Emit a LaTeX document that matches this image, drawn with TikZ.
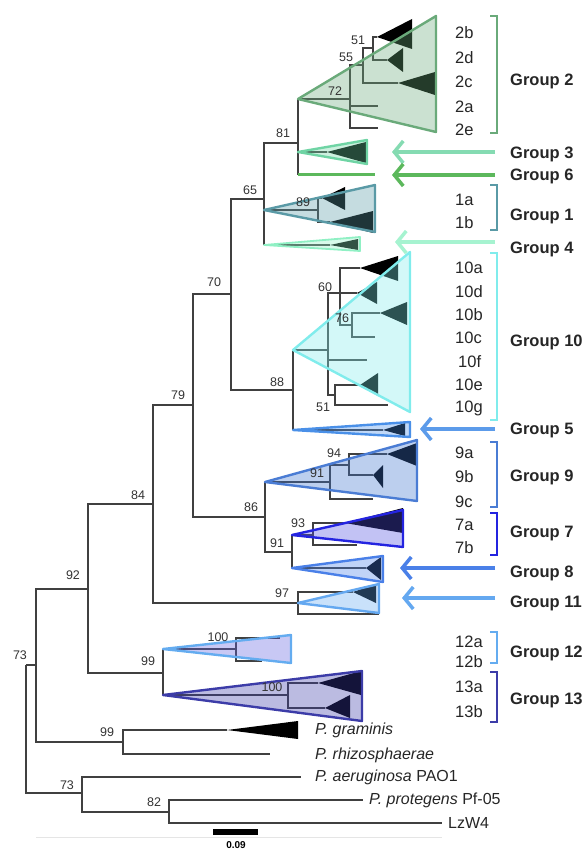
\documentclass[tikz,border=0pt]{standalone}
\usepackage{fontspec}
\setmainfont{Liberation Sans}
\usetikzlibrary{arrows.meta}

% clade colours
\definecolor{treegray}{HTML}{404040}
\definecolor{cTwo}{HTML}{6AAA7A}
\definecolor{cThree}{HTML}{6FD4A4}
\definecolor{cSix}{HTML}{5CB85C}
\definecolor{cOne}{HTML}{5A9AA6}
\definecolor{cFour}{HTML}{90F0C4}
\definecolor{cTen}{HTML}{80ECEC}
\definecolor{cFive}{HTML}{4A90E8}
\definecolor{cNine}{HTML}{4A7CD4}
\definecolor{cNineF}{HTML}{3F75CE}
\definecolor{cSeven}{HTML}{2424E0}
\definecolor{cSevenF}{HTML}{5050E0}
\definecolor{cEight}{HTML}{4A80E8}
\definecolor{cEleven}{HTML}{64A8F0}
\definecolor{cTwelve}{HTML}{64ACF0}
\definecolor{cTwelveF}{HTML}{6161DF}
\definecolor{cThirteen}{HTML}{3C3CA8}

\tikzset{
  br/.style={draw=treegray, line width=1.2pt},
  bs/.style={font=\fontsize{12.5}{14}\selectfont, text=black!80, inner sep=0pt},
  sub/.style={font=\fontsize{16.5}{19}\selectfont, text=black!85, anchor=west, inner sep=0pt},
  grp/.style={font=\fontsize{16.5}{19}\selectfont\bfseries, text=black!85, anchor=west, inner sep=0pt},
  spc/.style={font=\fontsize{16}{19}\selectfont, text=black!85, anchor=west, inner sep=0pt},
  clade/.style 2 args={fill=#1, fill opacity=0.35, draw=#2, draw opacity=1, line width=2.4pt, line join=round},
  leaftri/.style={fill=black},
  brk/.style={line width=2.5pt, line join=miter},
  arr/.style={line width=3.5pt, -{Straight Barb[length=9pt,width=22pt]}},
}

\begin{document}
\begin{tikzpicture}[x=1pt,y=-1pt]
\useasboundingbox (0,0) rectangle (587,850);

% ---------- backbone nodes ----------
\coordinate (R) at (26,665);
\coordinate (N73a) at (36,665);
\coordinate (N92) at (88,589);
\coordinate (N84) at (153,504);
\coordinate (N79) at (193,405);
\coordinate (N70) at (231,294);
\coordinate (N65) at (264,199);
\coordinate (N81) at (298,143);
\coordinate (A2) at (298,99);
\coordinate (A3) at (298,152);
\coordinate (A6) at (298,175);
\coordinate (E6) at (375,175);
\coordinate (A1) at (264,210);
\coordinate (A4) at (264,245);
\coordinate (N88) at (293,390);
\coordinate (A10) at (293,350);
\coordinate (A5) at (293,430);
\coordinate (N86) at (265,517);
\coordinate (A9) at (265,482);
\coordinate (N91) at (292,552);
\coordinate (A7) at (292,535);
\coordinate (A8) at (292,568);
\coordinate (N97) at (298,603);
\coordinate (N99) at (163,673);
\coordinate (A12) at (163,649);
\coordinate (A13) at (163,695);
\coordinate (N99g) at (123,742);
\coordinate (Lgram) at (227,730);
\coordinate (Lrhizo) at (270,754);
\coordinate (N73b) at (82,793);
\coordinate (Laer) at (301,777);
\coordinate (N82) at (169,812);
\coordinate (Lprot) at (363,800);
\coordinate (Llzw) at (442,823);

% ---------- clade-internal nodes ----------
\coordinate (N72) at (350,99);
\coordinate (N55) at (363,65);
\coordinate (N51) at (373,48);
\coordinate (T2b) at (377,37);
\coordinate (T2d) at (387,60);
\coordinate (T2c) at (398,83);
\coordinate (L2a) at (378,106);
\coordinate (L2e) at (378,128);
\coordinate (T3) at (327,152);
\coordinate (N89) at (318,210);
\coordinate (T1a) at (322,198);
\coordinate (T1b) at (330,222);
\coordinate (T4) at (330,245);
\coordinate (N10) at (328,350);
\coordinate (N60) at (340,293);
\coordinate (T10a) at (360,268);
\coordinate (T10d) at (357,293);
\coordinate (N76) at (352,325);
\coordinate (T10b) at (380,313);
\coordinate (L10c) at (375,337);
\coordinate (L10f) at (367,360);
\coordinate (N51b) at (335,395);
\coordinate (T10e) at (360,385);
\coordinate (L10g) at (388,405);
\coordinate (T5) at (383,430);
\coordinate (N91a) at (330,482);
\coordinate (N94) at (349,465);
\coordinate (T9a) at (387,454);
\coordinate (T9b) at (373,475);
\coordinate (L9c) at (373,499);
\coordinate (N93) at (313,535);
\coordinate (T7a) at (345,523);
\coordinate (L7b) at (357,545);
\coordinate (T8) at (366,568);
\coordinate (T11a) at (353,592);
\coordinate (L11b) at (379,614);
\coordinate (N100a) at (236,649);
\coordinate (L12a) at (280,638);
\coordinate (L12b) at (262,661);
\coordinate (N100b) at (288,695);
\coordinate (T13a) at (318,683);
\coordinate (T13b) at (325,708);

% faint baseline under the tree
\draw[black!10, line width=1pt] (36,837) -- (442,837);

% ---------- backbone branches ----------
\draw[br] (R) |- (N73a);
\draw[br] (R) |- (N73b);
\draw[br] (N73a) |- (N92);
\draw[br] (N73a) |- (N99g);
\draw[br] (N92) |- (N84);
\draw[br] (N92) |- (N99);
\draw[br] (N84) |- (N79);
\draw[br] (N84) |- (N97);
\draw[br] (N79) |- (N70);
\draw[br] (N79) |- (N86);
\draw[br] (N70) |- (N65);
\draw[br] (N70) |- (N88);
\draw[br] (N65) |- (N81);
\draw[br] (N65) |- (A1);
\draw[br] (N65) |- (A4);
\draw[br] (N81) |- (A2);
\draw[br] (N81) |- (A3);
\draw[br] (N81) |- (A6);
\draw[br] (N88) |- (A10);
\draw[br] (N88) |- (A5);
\draw[br] (N86) |- (A9);
\draw[br] (N86) |- (N91);
\draw[br] (N91) |- (A7);
\draw[br] (N91) |- (A8);
\draw[br] (N99) |- (A12);
\draw[br] (N99) |- (A13);
\draw[br] (N99g) |- (Lgram);
\draw[br] (N99g) |- (Lrhizo);
\draw[br] (N73b) |- (Laer);
\draw[br] (N73b) |- (N82);
\draw[br] (N82) |- (Lprot);
\draw[br] (N82) |- (Llzw);

% ---------- subtrees inside the clades ----------
% group 2
\draw[br] (A2) -- (N72);
\draw[br] (N72) |- (N55);
\draw[br] (N72) |- (L2a);
\draw[br] (N72) |- (L2e);
\draw[br] (N55) |- (N51);
\draw[br] (N55) |- (T2c);
\draw[br] (N51) |- (T2b);
\draw[br] (N51) |- (T2d);
\fill[leaftri] (T2b) -- (412,19) -- (412,49) -- cycle;
\fill[leaftri] (T2d) -- (403,48) -- (403,72) -- cycle;
\fill[leaftri] (T2c) -- (435,72) -- (435,95) -- cycle;
% group 3
\draw[br] (A3) -- (T3);
\fill[leaftri] (T3) -- (366,142) -- (366,163) -- cycle;
% group 1
\draw[br] (A1) -- (N89);
\draw[br] (N89) |- (T1a);
\draw[br] (N89) |- (T1b);
\fill[leaftri] (T1a) -- (345,187) -- (345,210) -- cycle;
\fill[leaftri] (T1b) -- (373,211) -- (373,233) -- cycle;
% group 4
\draw[br] (A4) -- (T4);
\fill[leaftri] (T4) -- (358,239) -- (358,250) -- cycle;
% group 10
\draw[br] (A10) -- (N10);
\draw[br] (N10) |- (N60);
\draw[br] (N10) |- (L10f);
\draw[br] (N10) |- (N51b);
\draw[br] (N60) |- (T10a);
\draw[br] (N60) |- (T10d);
\draw[br] (N60) |- (N76);
\draw[br] (N76) |- (T10b);
\draw[br] (N76) |- (L10c);
\draw[br] (N51b) |- (T10e);
\draw[br] (N51b) |- (L10g);
\fill[leaftri] (T10a) -- (398,256) -- (398,281) -- cycle;
\fill[leaftri] (T10d) -- (377,282) -- (377,304) -- cycle;
\fill[leaftri] (T10b) -- (407,302) -- (407,325) -- cycle;
\fill[leaftri] (T10e) -- (378,373) -- (378,396) -- cycle;
% group 5
\draw[br] (A5) -- (T5);
\fill[leaftri] (T5) -- (405,423) -- (405,436) -- cycle;
% group 9
\draw[br] (A9) -- (N91a);
\draw[br] (N91a) |- (N94);
\draw[br] (N91a) |- (L9c);
\draw[br] (N94) |- (T9a);
\draw[br] (N94) |- (T9b);
\fill[leaftri] (T9a) -- (417,443) -- (417,466) -- cycle;
\fill[leaftri] (T9b) -- (383,465) -- (383,488) -- cycle;
% group 7
\draw[br] (A7) -- (N93);
\draw[br] (N93) |- (T7a);
\draw[br] (N93) |- (L7b);
\fill[leaftri] (T7a) -- (403,508) -- (403,533) -- cycle;
% group 8
\draw[br] (A8) -- (T8);
\fill[leaftri] (T8) -- (381,557) -- (381,580) -- cycle;
% group 11
\draw[br] (N97) |- (T11a);
\draw[br] (N97) |- (L11b);
\fill[leaftri] (T11a) -- (376,584) -- (376,603) -- cycle;
% group 12
\draw[br] (A12) -- (N100a);
\draw[br] (N100a) |- (L12a);
\draw[br] (N100a) |- (L12b);
% group 13
\draw[br] (A13) -- (N100b);
\draw[br] (N100b) |- (T13a);
\draw[br] (N100b) |- (T13b);
\fill[leaftri] (T13a) -- (361,671) -- (361,695) -- cycle;
\fill[leaftri] (T13b) -- (350,695) -- (350,718) -- cycle;
% P. graminis
\fill[leaftri] (Lgram) -- (298,721) -- (298,739) -- cycle;

% ---------- collapsed clade triangles ----------
\path[clade={cTwo}{cTwo}] (A2) -- (436,16) -- (436,132) -- cycle;
\path[clade={cThree}{cThree}] (A3) -- (367,140) -- (367,164) -- cycle;
\draw[cSix, line width=3pt] (A6) -- (E6);
\path[clade={cOne}{cOne}] (A1) -- (375,185) -- (375,232) -- cycle;
\path[clade={cFour}{cFour}, line width=1.8pt] (A4) -- (360,237) -- (360,251) -- cycle;
\path[clade={cTen}{cTen}] (A10) -- (410,252) -- (410,412) -- cycle;
\path[clade={cFive}{cFive}] (A5) -- (410,422) -- (410,437) -- cycle;
\path[clade={cNineF}{cNine}] (A9) -- (417,440) -- (417,501) -- cycle;
\path[clade={cSevenF}{cSeven}] (A7) -- (403,510) -- (403,547) -- cycle;
\path[clade={cEight}{cEight}] (A8) -- (383,556) -- (383,582) -- cycle;
\path[clade={cEleven}{cEleven}] (N97) -- (379,584) -- (379,613) -- cycle;
\path[clade={cTwelveF}{cTwelve}] (A12) -- (291,635) -- (291,663) -- cycle;
\path[clade={cThirteen}{cThirteen}] (A13) -- (362,671) -- (362,721) -- cycle;

% ---------- bootstrap values ----------
\node[bs] (b51a) at (358,40) {51};
\node[bs] (b55) at (346,57) {55};
\node[bs] (b72) at (335,91) {72};
\node[bs] (b81) at (283,133) {81};
\node[bs] (b65) at (250,190) {65};
\node[bs] (b89) at (303,202) {89};
\node[bs] (b70) at (214,282) {70};
\node[bs] (b60) at (325,287) {60};
\node[bs] (b76) at (342,318) {76};
\node[bs] (b88) at (277,382) {88};
\node[bs] (b51b) at (323,407) {51};
\node[bs] (b79) at (178,395) {79};
\node[bs] (b94) at (334,453) {94};
\node[bs] (b91a) at (317,473) {91};
\node[bs] (b86) at (251,507) {86};
\node[bs] (b93) at (298,523) {93};
\node[bs] (b91b) at (277,543) {91};
\node[bs] (b84) at (138,495) {84};
\node[bs] (b97) at (282,593) {97};
\node[bs] (b92) at (73,575) {92};
\node[bs] (b100a) at (218,637) {100};
\node[bs] (b99a) at (148,661) {99};
\node[bs] (b100b) at (272,687) {100};
\node[bs] (b73a) at (20,655) {73};
\node[bs] (b99b) at (107,732) {99};
\node[bs] (b73b) at (67,785) {73};
\node[bs] (b82) at (154,802) {82};

% ---------- outgroup labels ----------
\node[spc] (sgram) at (315,730) {\itshape P. graminis};
\node[spc] (srhizo) at (315,755) {\itshape P. rhizosphaerae};
\node[spc] (saer) at (315,777) {\itshape P. aeruginosa\/\upshape\ PAO1};
\node[spc] (sprot) at (369,800) {\itshape P. protegens\/\upshape\ Pf-05};
\node[spc] (slzw) at (448,823) {LzW4};

% ---------- scale bar ----------
\coordinate (sb0) at (213,832);
\coordinate (sb1) at (258,832);
\draw[line width=6pt] (sb0) -- (sb1);
\node[font=\fontsize{10}{12}\selectfont\bfseries, inner sep=0pt] (sbl) at (236,845) {0.09};

% ---------- subgroup labels ----------
\node[sub] (l2b) at (455,33) {2b};
\node[sub] (l2d) at (455,58) {2d};
\node[sub] (l2c) at (455,82) {2c};
\node[sub] (l2a) at (455,107) {2a};
\node[sub] (l2e) at (455,130) {2e};
\node[sub] (l1a) at (455,200) {1a};
\node[sub] (l1b) at (455,223) {1b};
\node[sub] (l10a) at (455,268) {10a};
\node[sub] (l10d) at (455,292) {10d};
\node[sub] (l10b) at (455,315) {10b};
\node[sub] (l10c) at (455,338) {10c};
\node[sub] (l10f) at (458,362) {10f};
\node[sub] (l10e) at (455,385) {10e};
\node[sub] (l10g) at (455,408) {10g};
\node[sub] (l9a) at (455,453) {9a};
\node[sub] (l9b) at (455,477) {9b};
\node[sub] (l9c) at (455,502) {9c};
\node[sub] (l7a) at (455,525) {7a};
\node[sub] (l7b) at (455,548) {7b};
\node[sub] (l12a) at (455,642) {12a};
\node[sub] (l12b) at (455,662) {12b};
\node[sub] (l13a) at (455,687) {13a};
\node[sub] (l13b) at (455,712) {13b};

% ---------- brackets ----------
\draw[brk, cTwo] (490,16) -- (497,16) -- (497,133) -- (490,133);
\draw[brk, cOne] (490,185) -- (497,185) -- (497,230) -- (490,230);
\draw[brk, cTen] (490,253) -- (497,253) -- (497,420) -- (490,420);
\draw[brk, cNine] (490,442) -- (497,442) -- (497,507) -- (490,507);
\draw[brk, cSeven] (490,513) -- (497,513) -- (497,555) -- (490,555);
\draw[brk, cTwelve] (490,632) -- (497,632) -- (497,663) -- (490,663);
\draw[brk, cThirteen] (490,672) -- (497,672) -- (497,722) -- (490,722);

% ---------- arrows ----------
\coordinate (as3) at (495,152);  \coordinate (at3) at (392,152);
\coordinate (as6) at (495,175);  \coordinate (at6) at (392,175);
\coordinate (as4) at (495,242);  \coordinate (at4) at (395,242);
\coordinate (as5) at (495,429);  \coordinate (at5) at (420,429);
\coordinate (as8) at (495,568);  \coordinate (at8) at (400,568);
\coordinate (as11) at (495,598); \coordinate (at11) at (402,598);
\draw[arr, cThree!85] (as3) -- (at3);
\draw[arr, cSix] (as6) -- (at6);
\draw[arr, cFour!80] (as4) -- (at4);
\draw[arr, cFive!90] (as5) -- (at5);
\draw[arr, cEight] (as8) -- (at8);
\draw[arr, cEleven] (as11) -- (at11);

% ---------- group labels ----------
\node[grp] (g2) at (510,81) {Group 2};
\node[grp] (g3) at (510,154) {Group 3};
\node[grp] (g6) at (510,176) {Group 6};
\node[grp] (g1) at (510,216) {Group 1};
\node[grp] (g4) at (510,249) {Group 4};
\node[grp] (g10) at (510,342) {Group 10};
\node[grp] (g5) at (510,430) {Group 5};
\node[grp] (g9) at (510,477) {Group 9};
\node[grp] (g7) at (510,533) {Group 7};
\node[grp] (g8) at (510,573) {Group 8};
\node[grp] (g11) at (510,603) {Group 11};
\node[grp] (g12) at (510,653) {Group 12};
\node[grp] (g13) at (510,700) {Group 13};
\end{tikzpicture}
\end{document}
